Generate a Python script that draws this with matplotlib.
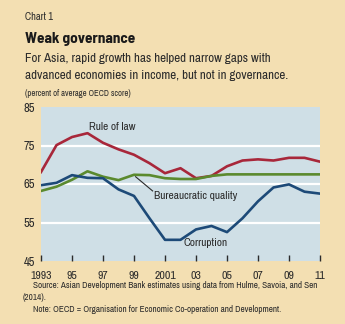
import matplotlib.pyplot as plt
import numpy as np

# ==================================
# DATA
# ==================================

years = np.arange(1993, 2012)

rule_of_law = [68.1, 75.1, 77.2, 78.2, 75.7, 74.0, 72.6, 70.4, 67.8, 69.1,
               66.5, 67.1, 69.6, 71.1, 71.4, 71.1, 71.8, 71.8, 70.8]

bureaucratic = [63.2, 64.3, 66.1, 68.3, 66.9, 66.0, 67.4, 67.3, 66.5, 66.3,
                66.3, 67.1, 67.5, 67.5, 67.5, 67.5, 67.5, 67.5, 67.5]

corruption = [64.7, 65.3, 67.3, 66.6, 66.5, 63.6, 61.9, 56.1, 50.5, 50.5,
              53.2, 54.1, 52.5, 56.1, 60.5, 64.1, 64.9, 63.0, 62.5]

tick_years = [1993, 1995, 1997, 1999, 2001, 2003, 2005, 2007, 2009, 2011]
tick_labels = ["1993", "95", "97", "99", "2001", "03", "05", "07", "09", "11"]

# ==================================
# STYLE
# ==================================

plt.rcParams["font.family"] = ["Archivo Narrow", "DejaVu Sans"]

bg = "#F3DFB2"
panel = "#CFDFE6"
text_col = "#2B2B2B"

fig = plt.figure(figsize=(3.45, 3.24), dpi=100)
fig.patch.set_facecolor(bg)

ax = fig.add_axes([41 / 345, 1 - 261 / 324, 279 / 345, 154 / 324])
ax.set_facecolor(panel)

for y in [55, 65, 75]:
    ax.axhline(y, color="white", linewidth=1.6, zorder=1)

ax.plot(years, rule_of_law, color="#A8273A", linewidth=1.9, zorder=3)
ax.plot(years, bureaucratic, color="#5B8A2E", linewidth=1.9, zorder=3)
ax.plot(years, corruption, color="#1D4A78", linewidth=1.9, zorder=4)

ax.set_xlim(1993, 2011)
ax.set_ylim(45, 85)

ax.set_yticks([45, 55, 65, 75, 85])
ax.set_xticks(tick_years)
ax.set_xticklabels(tick_labels)

ax.tick_params(axis="y", length=0, labelsize=9, colors=text_col, pad=4)
ax.tick_params(axis="x", direction="in", length=4, width=1,
               color=text_col, labelsize=8.5, labelcolor=text_col, pad=7)

for s in ax.spines.values():
    s.set_visible(False)

# series labels
ax.text(1997.6, 79.9, "Rule of law", fontsize=8.2, color=text_col,
        ha="center", va="center")
ax.text(2000.3, 61.8, "Bureaucratic quality", fontsize=8.2, color=text_col,
        ha="left", va="center")
ax.plot([1999.1, 2000.2], [66.9, 63.2], color=text_col, linewidth=0.8)
ax.text(2003.6, 49.7, "Corruption", fontsize=8.2, color=text_col,
        ha="center", va="center")

# ==================================
# TITLES AND NOTES
# ==================================

fig.text(25 / 345, 1 - 17 / 324, "Chart 1", fontsize=7.5, color=text_col,
         va="center")
fig.text(25 / 345, 1 - 39 / 324, "Weak governance", fontsize=11,
         fontweight="bold", color="#1A1A1A", va="center",
         family=["Barlow Semi Condensed", "Asap Condensed", "DejaVu Sans"])
fig.text(25 / 345, 1 - 59 / 324,
         "For Asia, rapid growth has helped narrow gaps with",
         fontsize=9.4, color=text_col, va="center")
fig.text(25 / 345, 1 - 76 / 324,
         "advanced economies in income, but not in governance.",
         fontsize=9.4, color=text_col, va="center")
fig.text(25 / 345, 1 - 94 / 324, "(percent of average OECD score)",
         fontsize=6.2, color=text_col, va="center")

fig.text(33 / 345, 1 - 285 / 324,
         "Source: Asian Development Bank estimates using data from Hulme, Savoia, and Sen",
         fontsize=6.6, color=text_col, va="center")
fig.text(23 / 345, 1 - 297 / 324, "(2014).",
         fontsize=6.6, color=text_col, va="center")
fig.text(33 / 345, 1 - 310 / 324,
         "Note: OECD = Organisation for Economic Co-operation and Development.",
         fontsize=6.6, color=text_col, va="center")

fig.savefig("out.png", dpi=100, facecolor=bg)
